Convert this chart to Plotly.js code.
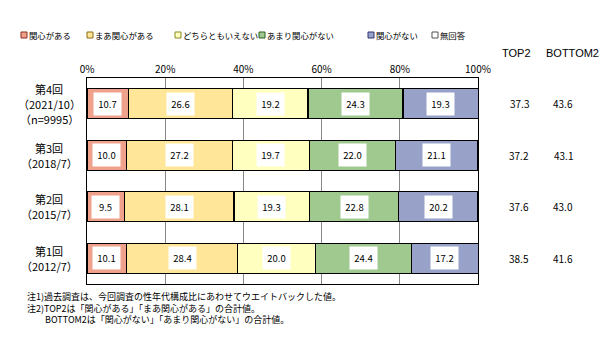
<!DOCTYPE html>
<html>
<head>
<meta charset="utf-8">
<script src="https://cdn.plot.ly/plotly-3.0.1.min.js"></script>
<style>html,body{margin:0;padding:0;background:#fff;}#chart{width:608px;height:353px;}</style>
</head>
<body>
<div id="chart"></div>
<script>
// ---- data ----
var categories = ['第4回', '第3回', '第2回', '第1回'];
var catSub = [['（2021/10）', '（n=9995）'], ['（2018/7）'], ['（2015/7）'], ['（2012/7）']];
var seriesNames = ['関心がある', 'まあ関心がある', 'どちらともいえない', 'あまり関心がない', '関心がない', '無回答'];
var kanshinAru = [10.7, 10.0, 9.5, 10.1];
var maaKanshinAru = [26.6, 27.2, 28.1, 28.4];
var dochiramo = [19.2, 19.7, 19.3, 20.0];
var amariNai = [24.3, 22.0, 22.8, 24.4];
var kanshinNai = [19.3, 21.1, 20.2, 17.2];
var mukaito = [0, 0, 0, 0];
var top2 = ['37.3', '37.2', '37.6', '38.5'];
var bottom2 = ['43.6', '43.1', '43.0', '41.6'];
var xTicks = [0, 20, 40, 60, 80, 100];
var notes = ['注1)過去調査は、今回調査の性年代構成比にあわせてウエイトバックした値。',
             '注2)TOP2は「関心がある」「まあ関心がある」の合計値。',
             '　　BOTTOM2は「関心がない」「あまり関心がない」の合計値。'];
var colors = ['#EFA18B', '#FFE699', '#FFFFBF', '#A0C990', '#98A1C8', '#FFFFFF'];
var swatchBorders = ['#8B2E1E', '#8A6A10', '#8A8A20', '#2E5E22', '#2E3570', '#555555'];

var series = [kanshinAru, maaKanshinAru, dochiramo, amariNai, kanshinNai, mukaito];

// ---- geometry ----
var W = 608, H = 353;
var M = {l: 87, r: 130, t: 78, b: 69};
var pw = W - M.l - M.r, ph = H - M.t - M.b;
function px(x) { return (x - M.l) / pw; }
function py(y) { return 1 - (y - M.t) / ph; }

var JP = '"Noto Sans CJK JP", "Noto Sans", sans-serif';

var traces = series.map(function (vals, i) {
  return {
    type: 'bar', orientation: 'h', name: seriesNames[i],
    y: categories, x: vals,
    marker: {color: colors[i], line: {color: '#000', width: 1.2}},
    hoverinfo: 'x+name', showlegend: false
  };
});

var annotations = [];
var shapes = [];

categories.forEach(function (c, ci) {
  // value labels (white boxes)
  var cum = 0;
  for (var s = 0; s < 5; s++) {
    var v = series[s][ci];
    annotations.push({
      x: cum + v / 2, y: c, xref: 'x', yref: 'y',
      text: v.toFixed(1), showarrow: false,
      bgcolor: '#fff', width: 25, height: 20,
      font: {family: JP, size: 9.5, color: '#000'}
    });
    cum += v;
  }
  // category labels, one annotation per line
  var lines = [c].concat(catSub[ci]);
  var n = lines.length, gap = 15;
  lines.forEach(function (t, li) {
    annotations.push({
      x: px(49), y: c, xref: 'paper', yref: 'y',
      yshift: ((n - 1) / 2 - li) * gap,
      text: t, showarrow: false, xanchor: 'center', yanchor: 'middle', borderpad: 0,
      font: {family: JP, size: 11, color: '#000'}
    });
  });
  annotations.push({
    x: px(519), y: c, xref: 'paper', yref: 'y', text: top2[ci], showarrow: false,
    xanchor: 'center', font: {family: JP, size: 10, color: '#000'}
  });
  annotations.push({
    x: px(563), y: c, xref: 'paper', yref: 'y', text: bottom2[ci], showarrow: false,
    xanchor: 'center', font: {family: JP, size: 10, color: '#000'}
  });
});

// column headers
annotations.push({x: px(516), y: py(53), xref: 'paper', yref: 'paper', text: 'TOP2', showarrow: false,
  xanchor: 'center', yanchor: 'middle', font: {family: 'Liberation Sans, Arial', size: 11, color: '#000'}});
annotations.push({x: px(572), y: py(53), xref: 'paper', yref: 'paper', text: 'BOTTOM2', showarrow: false,
  xanchor: 'center', yanchor: 'middle', font: {family: 'Liberation Sans, Arial', size: 11, color: '#000'}});

// legend (custom)
var legX = [21, 87, 175, 259, 368, 432];
seriesNames.forEach(function (n, i) {
  shapes.push({type: 'rect', xref: 'paper', yref: 'paper',
    x0: px(legX[i]), x1: px(legX[i] + 6), y0: py(38), y1: py(32),
    fillcolor: colors[i], line: {color: swatchBorders[i], width: 1}});
  annotations.push({x: px(legX[i] + 7), y: py(35), xref: 'paper', yref: 'paper', text: n,
    showarrow: false, xanchor: 'left', yanchor: 'middle', borderpad: 0,
    font: {family: JP, size: 8.4, color: '#000'}});
});

// notes
annotations.push({x: px(26), y: py(289), xref: 'paper', yref: 'paper', text: notes.join('<br>'),
  showarrow: false, xanchor: 'left', yanchor: 'top', align: 'left', borderpad: 0,
  font: {family: JP, size: 9, color: '#000'}});

var layout = {
  width: W, height: H,
  margin: M,
  paper_bgcolor: '#fff', plot_bgcolor: '#fff',
  barmode: 'stack', bargap: 0.42,
  showlegend: false,
  xaxis: {
    side: 'top', range: [0, 100], tickvals: xTicks, ticktext: xTicks.map(function (v) { return v + '%'; }),
    showgrid: true, gridcolor: '#888', gridwidth: 1,
    showline: true, linecolor: '#000', linewidth: 1, mirror: true,
    ticks: '', zeroline: false, fixedrange: true,
    tickfont: {family: JP, size: 10, color: '#000'}
  },
  yaxis: {
    type: 'category', autorange: 'reversed', showticklabels: false,
    showline: true, linecolor: '#000', linewidth: 1, mirror: true,
    showgrid: false, ticks: '', zeroline: false, fixedrange: true
  },
  annotations: annotations,
  shapes: shapes
};

Plotly.newPlot('chart', traces, layout, {displayModeBar: false, staticPlot: true});
</script>
</body>
</html>
